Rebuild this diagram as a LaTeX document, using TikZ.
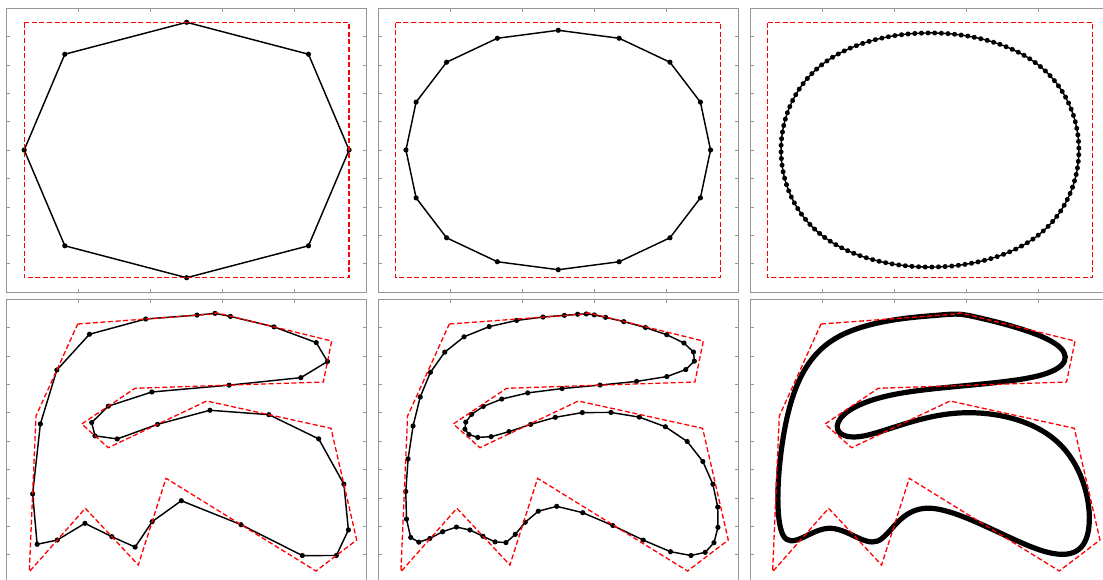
\documentclass[tikz,border=0pt]{standalone}
\usetikzlibrary{calc,decorations.markings}
\definecolor{axgray}{RGB}{150,150,150}
\newcommand\axframe[2]{%
  \begin{scope}[shift={(#1,#2)}]
    \draw[axline] (0,0) rectangle (360,284);
    \foreach \k in {1,...,4}{\draw[axline] (72*\k,0) -- ++(0,3.5) (72*\k,284) -- ++(0,-3.5);}
    \foreach \k in {1,...,9}{\draw[axline] (0,28.4*\k) -- ++(3.5,0) (360,28.4*\k) -- ++(-3.5,0);}
  \end{scope}}
\newcommand\defctrlsq[1]{%
  \coordinate (#1-0) at (17.5,14);
  \coordinate (#1-1) at (342.4,14);
  \coordinate (#1-2) at (342.4,269.4);
  \coordinate (#1-3) at (17.5,269.4);}
\newcommand\defctrlg[1]{%
  \coordinate (#1-0) at (71.0,24.7);
  \coordinate (#1-1) at (207.0,14.7);
  \coordinate (#1-2) at (209.6,13.4);
  \coordinate (#1-3) at (325.0,41.7);
  \coordinate (#1-4) at (316.6,82.7);
  \coordinate (#1-5) at (128.3,89.0);
  \coordinate (#1-6) at (75.0,124.7);
  \coordinate (#1-7) at (101.6,148.4);
  \coordinate (#1-8) at (200.0,101.7);
  \coordinate (#1-9) at (324.3,129.0);
  \coordinate (#1-10) at (350.0,240.7);
  \coordinate (#1-11) at (309.3,271.7);
  \coordinate (#1-12) at (159.3,179.0);
  \coordinate (#1-13) at (131.6,265.7);
  \coordinate (#1-14) at (78.6,209.0);
  \coordinate (#1-15) at (22.6,272.4);
  \coordinate (#1-16) at (29.3,116.7);}
% one step of cubic B-spline subdivision: source prefix, target prefix, last index of source
\newcommand\mysubdiv[3]{%
  \foreach \i in {0,...,#3}{%
    \pgfmathtruncatemacro\ipr{mod(\i+#3,#3+1)}%
    \pgfmathtruncatemacro\inx{mod(\i+1,#3+1)}%
    \pgfmathtruncatemacro\ka{2*\i}%
    \pgfmathtruncatemacro\kb{2*\i+1}%
    \coordinate (#2-\ka) at ($0.125*(#1-\ipr)+0.75*(#1-\i)+0.125*(#1-\inx)$);
    \coordinate (#2-\kb) at ($(#1-\i)!0.5!(#1-\inx)$);
  }}
% limit-curve knot points
\newcommand\mydefS[2]{%
  \foreach \i in {0,...,#2}{%
    \pgfmathtruncatemacro\ipr{mod(\i+#2,#2+1)}%
    \pgfmathtruncatemacro\inx{mod(\i+1,#2+1)}%
    \coordinate (#1s-\i) at ($0.1666667*(#1-\ipr)+0.6666667*(#1-\i)+0.1666667*(#1-\inx)$);
  }}
\newcommand\mylimit[3]{% style, prefix, last index
  \draw[#1] (#2s-0) \foreach \i [evaluate=\i as \j using {int(mod(\i+1,#3+1))}] in {0,...,#3}{
     .. controls ($(#2-\i)!0.3333333!(#2-\j)$) and ($(#2-\i)!0.6666667!(#2-\j)$) .. (#2s-\j)};}
\newcommand\closedpoly[3]{% style, prefix, last
  \draw[#1] (#2-0) \foreach \k in {1,...,#3}{ -- (#2-\k)} -- cycle;}
\newcommand\putdots[2]{\foreach \k in {0,...,#2}{\fill[dotmark] (#1-\k) circle (2.6pt);}}
\begin{document}
\begin{tikzpicture}[x=1pt,y=-1pt,
  axline/.style={draw=axgray,line width=0.9pt},
  ctrlpoly/.style={draw=red,line width=1.3pt,dash pattern=on 5pt off 2.6pt},
  subpoly/.style={draw=black,line width=1.45pt,line join=round},
  dotmark/.style={fill=black}]
\useasboundingbox (0,0) rectangle (1103,579);
\clip (0,0) rectangle (1103,579);
\fill[white] (0,0) rectangle (1103,579);
% axes frames
\axframe{6.7}{8.3}
\axframe{378.3}{8.3}
\axframe{750}{8.3}
\axframe{6.7}{299.3}
\axframe{378.3}{299.3}
\axframe{750}{299.3}
% control polygons
\begin{scope}[shift={(6.7,8.3)}]\defctrlsq{sqA}\end{scope}
\begin{scope}[shift={(378.3,8.3)}]\defctrlsq{sqB}\end{scope}
\begin{scope}[shift={(750,8.3)}]\defctrlsq{sqC}\end{scope}
\begin{scope}[shift={(6.7,299.3)}]\defctrlg{gA}\end{scope}
\begin{scope}[shift={(378.3,299.3)}]\defctrlg{gB}\end{scope}
\begin{scope}[shift={(750,299.3)}]\defctrlg{gC}\end{scope}
% subdivisions
\mysubdiv{sqA}{sqAa}{3}
\mysubdiv{sqB}{sqBa}{3}
\mysubdiv{sqBa}{sqBb}{7}
\mydefS{sqC}{3}
\mysubdiv{gA}{gAa}{16}
\mysubdiv{gB}{gBa}{16}
\mysubdiv{gBa}{gBb}{33}
\mydefS{gC}{16}
% panel 1
\closedpoly{subpoly}{sqAa}{7}
\putdots{sqAa}{7}
\closedpoly{ctrlpoly}{sqA}{3}
% panel 2
\closedpoly{subpoly}{sqBb}{15}
\putdots{sqBb}{15}
\closedpoly{ctrlpoly}{sqB}{3}
% panel 3
\mylimit{subpoly,postaction={decorate},decoration={markings,mark=between positions 0 and 1 step 0.0078125 with {\fill (0,0) circle (2.5pt);}}}{sqC}{3}
\closedpoly{ctrlpoly}{sqC}{3}
% panel 4
\closedpoly{subpoly}{gAa}{33}
\putdots{gAa}{33}
\closedpoly{ctrlpoly}{gA}{16}
% panel 5
\closedpoly{subpoly}{gBb}{67}
\putdots{gBb}{67}
\closedpoly{ctrlpoly}{gB}{16}
% panel 6
\mylimit{draw=black,line width=5.2pt,line join=round,line cap=round}{gC}{16}
\closedpoly{ctrlpoly}{gC}{16}
\end{tikzpicture}
\end{document}
